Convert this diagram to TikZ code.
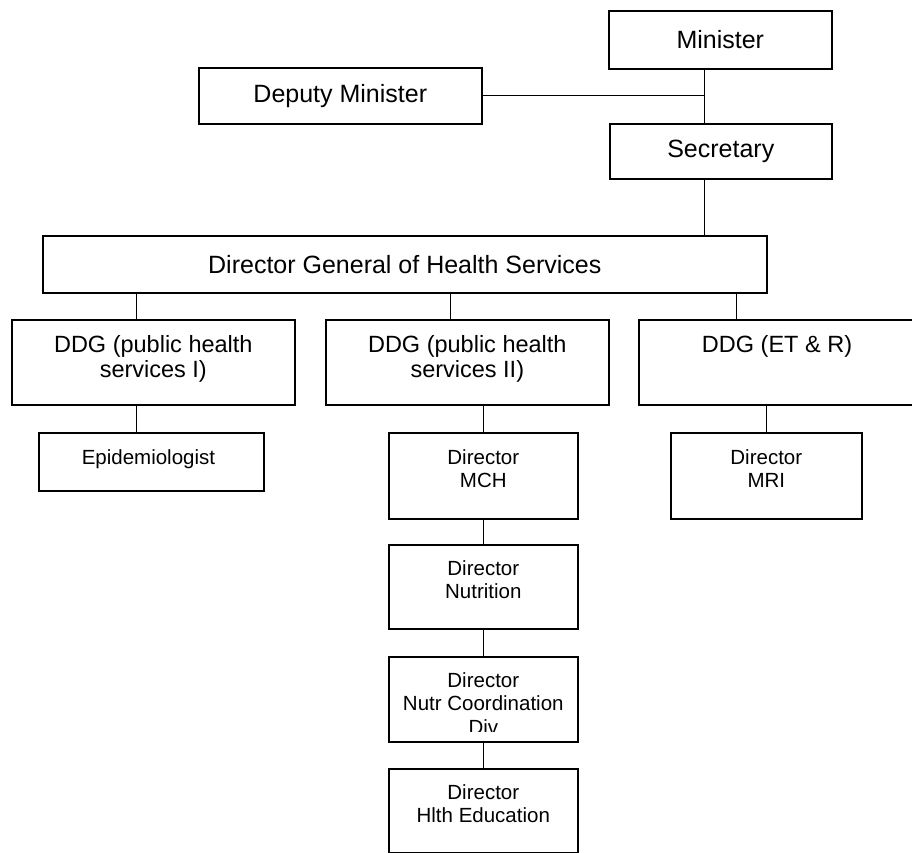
\documentclass[tikz,border=0pt]{standalone}
\usepackage{fontspec}
\setmainfont{Liberation Sans}
\usetikzlibrary{positioning}

\tikzset{
  orgbox/.style={draw, line width=1.6pt, inner sep=0pt, anchor=north west},
  bigtext/.style={font=\fontsize{25}{30}\selectfont},
  ddgtext/.style={font=\fontsize{23.5}{25.5}\selectfont, align=center, inner sep=0pt},
  dirtext/.style={font=\fontsize{20.5}{23.5}\selectfont, align=center, inner sep=0pt},
  link/.style={line width=1pt}
}

\begin{document}
\begin{tikzpicture}[x=1pt, y=-1pt]

  \clip (0, 0) rectangle (912, 853);

  \coordinate (spine) at (704, 0);
  \coordinate (ja) at (136, 0);
  \coordinate (jb) at (450, 0);
  \coordinate (jc) at (736, 0);

  \node[orgbox, bigtext, minimum width=223pt, minimum height=58pt] (min) at (608, 10) { Minister };
  \node[orgbox, bigtext, minimum width=283pt, minimum height=56pt] (dep) at (198, 67) { Deputy Minister };
  \node[orgbox, bigtext, minimum width=222pt, minimum height=55pt] (sec) at (609, 123) { Secretary };
  \node[orgbox, bigtext, minimum width=724pt, minimum height=57pt] (dg) at (42, 235) { Director General of Health Services };

  \node[orgbox, minimum width=283pt, minimum height=85pt] (ddga) at (11, 319) {};
  \node[orgbox, minimum width=283pt, minimum height=85pt] (ddgb) at (325, 319) {};
  \node[orgbox, minimum width=283pt, minimum height=85pt] (ddgc) at (638, 319) {};
  \node[ddgtext, below=16pt of ddga.north] (ddgatext) { DDG (public health\\services I) };
  \node[ddgtext, below=16pt of ddgb.north] (ddgbtext) { DDG (public health\\services II) };
  \node[ddgtext, below=16pt of ddgc.north] (ddgctext) { DDG (ET \& R) };

  \node[orgbox, minimum width=225pt, minimum height=58pt] (epi) at (38, 432) {};
  \node[orgbox, minimum width=189pt, minimum height=86pt] (mch) at (388, 432) {};
  \node[orgbox, minimum width=191pt, minimum height=86pt] (mri) at (670, 432) {};
  \node[orgbox, minimum width=189pt, minimum height=84pt] (nut) at (388, 544) {};
  \node[orgbox, minimum width=189pt, minimum height=85pt] (ncd) at (388, 656) {};
  \node[orgbox, minimum width=189pt, minimum height=84pt] (hed) at (388, 768) {};

  \node[dirtext, below=17pt of epi.north] (epitext) { Epidemiologist };
  \node[dirtext, below=17pt of mch.north] (mchtext) { Director\\MCH };
  \node[dirtext, below=17pt of mri.north] (mritext) { Director\\MRI };
  \node[dirtext, below=16pt of nut.north] (nuttext) { Director\\Nutrition };
  \begin{scope}
    \clip (ncd.north west) rectangle ([yshift=11pt]ncd.south east);
    \node[dirtext, below=16pt of ncd.north] (ncdtext) { Director\\Nutr Coordination\\Div };
  \end{scope}
  \node[dirtext, below=16pt of hed.north] (hedtext) { Director\\Hlth Education };

  \draw[link] (min.south -| spine) -- (sec.north -| spine);
  \draw[link] (dep.east) -- (dep.east -| spine);
  \draw[link] (sec.south -| spine) -- (dg.north -| spine);

  \draw[link] (dg.south -| ja) -- (ddga.north -| ja);
  \draw[link] (dg.south -| jb) -- (ddgb.north -| jb);
  \draw[link] (dg.south -| jc) -- (ddgc.north -| jc);

  \draw[link] (ddga.south -| ja) -- (epi.north -| ja);
  \draw[link] (ddgb.south -| mch.north) -- (mch.north);
  \draw[link] (ddgc.south -| mri.north) -- (mri.north);

  \draw[link] (mch) -- (nut);
  \draw[link] (nut) -- (ncd);
  \draw[link] (ncd) -- (hed);

\end{tikzpicture}
\end{document}
